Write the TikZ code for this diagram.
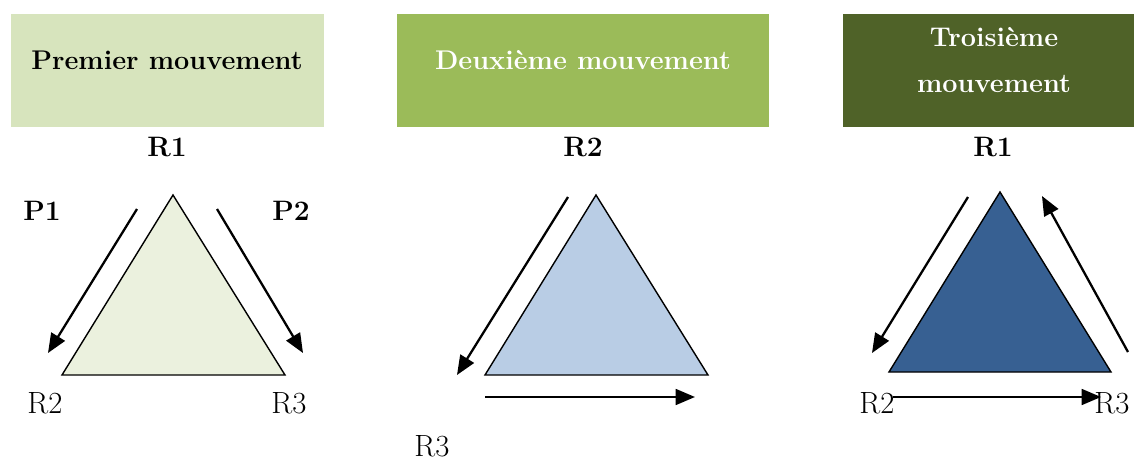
\documentclass[tikz,border=0pt]{standalone}
\usepackage{tikz}
\usetikzlibrary{arrows.meta}
\definecolor{paleg}{RGB}{215,228,189}
\definecolor{midg}{RGB}{155,187,89}
\definecolor{darkg}{RGB}{79,98,40}
\definecolor{trione}{RGB}{235,241,222}
\definecolor{tritwo}{RGB}{185,205,229}
\definecolor{trithree}{RGB}{55,96,146}

\begin{document}
\begin{tikzpicture}[x=0.02cm,y=-0.02cm,
  titlebox/.style={minimum width=#1*0.02cm,minimum height=113*0.02cm,inner sep=0pt},
  headlab/.style={font=\fontsize{15.4}{18}\selectfont\bfseries},
  vlab/.style={font=\fontsize{16}{19}\selectfont\bfseries},
  plab/.style={font=\fontsize{17.5}{20}\selectfont},
  tri/.style={line width=0.8pt,line join=miter},
  move/.style={line width=1.3pt,-{Triangle[length=11pt,width=9pt]}}]
\useasboundingbox (0,0) rectangle (1134,461);
% titres
\node[titlebox=313,fill=paleg] (t1) at (167.5,70.5) {};
\node[titlebox=372,fill=midg] (t2) at (583,70.5) {};
\node[titlebox=291,fill=darkg] (t3) at (988.5,70.5) {};
\node[headlab] (t1txt) at (167,60) {Premier mouvement};
\node[headlab,text=white] (t2txt) at (583,60) {Deuxième mouvement};
\node[headlab,text=white,align=center] (t3txt) at (994,60)
  {Troisième\\[8pt]mouvement};
% premier mouvement
\coordinate (a1) at (173,195); \coordinate (b1) at (62,375); \coordinate (c1) at (285,375);
\draw[tri,fill=trione] (a1) -- (b1) -- (c1) -- cycle;
\node[vlab] (r1a) at (167,147) {R1};
\node[vlab] (p1) at (42,211) {P1};
\node[vlab] (p2) at (291,211) {P2};
\node[plab] (r2a) at (45,403) {R2};
\node[plab] (r3a) at (289,403) {R3};
\coordinate (m1s) at (137,209); \coordinate (m1e) at (48,353);
\coordinate (m2s) at (217,209); \coordinate (m2e) at (303,353);
\draw[move] (m1s) -- (m1e);
\draw[move] (m2s) -- (m2e);
% deuxieme mouvement
\coordinate (a2) at (596,195); \coordinate (b2) at (485,375); \coordinate (c2) at (708,375);
\draw[tri,fill=tritwo] (a2) -- (b2) -- (c2) -- cycle;
\node[vlab] (r2b) at (583,147) {R2};
\node[plab] (r3b) at (432,446) {R3};
\coordinate (m3s) at (568,197); \coordinate (m3e) at (457,375);
\coordinate (m4s) at (485,397); \coordinate (m4e) at (695,397);
\draw[move] (m3s) -- (m3e);
\draw[move] (m4s) -- (m4e);
% troisieme mouvement
\coordinate (a3) at (1000,192); \coordinate (b3) at (889,372); \coordinate (c3) at (1111,372);
\draw[tri,fill=trithree] (a3) -- (b3) -- (c3) -- cycle;
\node[vlab] (r1c) at (993,147) {R1};
\node[plab] (r2c) at (877,403) {R2};
\node[plab] (r3c) at (1112,403) {R3};
\coordinate (m5s) at (968,197); \coordinate (m5e) at (872,353);
\coordinate (m6s) at (1128,352); \coordinate (m6e) at (1042,196);
\coordinate (m7s) at (893,397); \coordinate (m7e) at (1101,397);
\draw[move] (m5s) -- (m5e);
\draw[move] (m6s) -- (m6e);
\draw[move] (m7s) -- (m7e);
\end{tikzpicture}
\end{document}
